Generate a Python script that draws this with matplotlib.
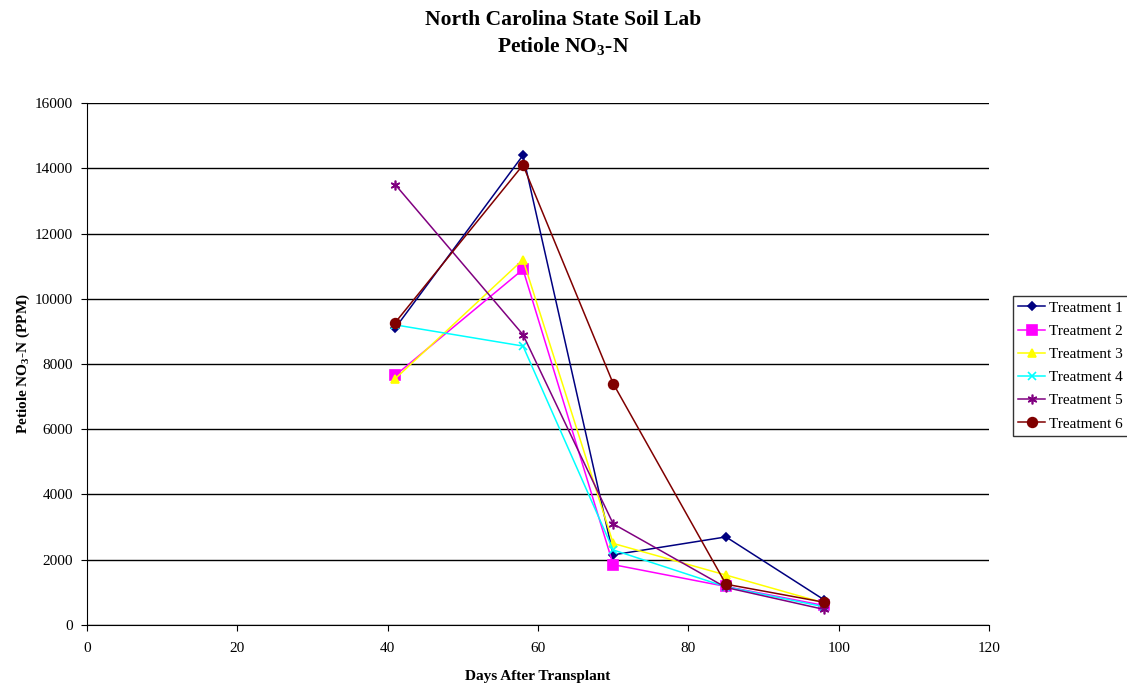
import numpy as np
import matplotlib
matplotlib.use('Agg')
import matplotlib.pyplot as plt

plt.rcParams['font.family'] = ['Liberation Serif', 'DejaVu Serif']
plt.rcParams['mathtext.default'] = 'regular'

# days after transplant
days = [41, 58, 70, 85, 98]

# petiole NO3-N (ppm)
t1 = [9100, 14400, 2150, 2700, 780]
t2 = [7650, 10900, 1850, 1180, 600]
t3 = [7550, 11200, 2500, 1530, 680]
t4 = [9200, 8550, 2300, 1170, 560]
t5 = [13500, 8900, 3100, 1150, 480]
t6 = [9270, 14100, 7400, 1250, 700]

names = ['Treatment 1', 'Treatment 2', 'Treatment 3',
         'Treatment 4', 'Treatment 5', 'Treatment 6']
series = [t1, t2, t3, t4, t5, t6]
colors = ['#000080', '#ff00ff', '#ffff00', '#00ffff', '#800080', '#800000']
markers = ['D', 's', '^', 'x', (6, 2, 0), 'o']
msizes = [4, 7, 6, 6, 7, 7]

fig = plt.figure(figsize=(11.27, 6.98), dpi=100)
ax = fig.add_axes([0.0772, 0.1046, 0.8004, 0.7478])

for y, name, c, m, ms in zip(series, names, colors, markers, msizes):
    ax.plot(days, y, color=c, marker=m, markersize=ms, linewidth=1.1,
            markeredgewidth=1.2, label=name)

ax.set_xlim(0, 120)
ax.set_ylim(0, 16000)
ax.set_xticks(range(0, 121, 20))
ax.set_yticks(range(0, 16001, 2000))
ax.yaxis.grid(True, color='black', linewidth=1)
ax.set_axisbelow(True)
for s in ['top', 'right']:
    ax.spines[s].set_visible(False)
ax.tick_params(direction='out', length=4, labelsize=11, pad=8)
ax.tick_params(axis='y', pad=6)

ax.set_xlabel('Days After Transplant', fontsize=11, fontweight='bold', labelpad=11)
ax.set_ylabel('Petiole NO$_3$-N (PPM)', fontsize=11, fontweight='bold', labelpad=2)

fig.text(0.5, 0.985, 'North Carolina State Soil Lab', ha='center', va='top',
         fontsize=15.5, fontweight='bold')
fig.text(0.5, 0.950, 'Petiole NO$_3$-N', ha='center', va='top',
         fontsize=15.5, fontweight='bold')

leg = fig.legend(loc='center left', bbox_to_anchor=(0.8985, 0.476), fontsize=11,
                 frameon=True, fancybox=False, edgecolor='black', borderpad=0.35,
                 labelspacing=0.62, handlelength=1.8, handletextpad=0.25,
                 borderaxespad=0)
leg.get_frame().set_linewidth(1)

fig.savefig('out.png', dpi=100)
